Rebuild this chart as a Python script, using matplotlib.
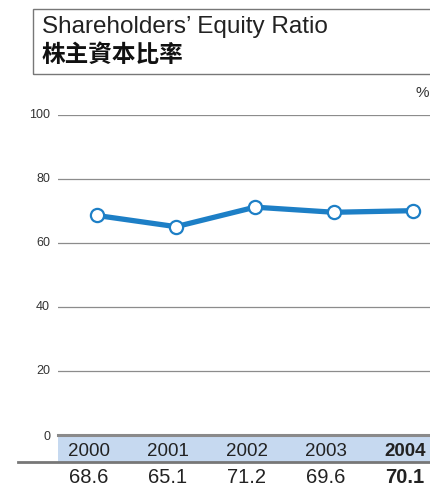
"""
Shareholders' Equity Ratio chart, 2000-2004.
"""

import matplotlib
matplotlib.use('Agg')
import matplotlib.pyplot as plt
from matplotlib.patches import Rectangle

years = ['2000', '2001', '2002', '2003', '2004']
ratio = [68.6, 65.1, 71.2, 69.6, 70.1]
value_labels = ['68.6', '65.1', '71.2', '69.6', '70.1']
y_ticks = [0, 20, 40, 60, 80, 100]

plt.rcParams['font.family'] = ['Liberation Sans', 'DejaVu Sans']

W, H = 431, 486
fig = plt.figure(figsize=(W / 100, H / 100), dpi=100)

# axes placed in pixel coordinates
ax_left, ax_right = 58, 431
ax_top, ax_bottom = 115, 435
ax = fig.add_axes([ax_left / W, 1 - ax_bottom / H,
                   (ax_right - ax_left) / W, (ax_bottom - ax_top) / H])

# x positions: first point at px 97, step 79 px
step = 79
x0 = (ax_left - 97) / step
x1 = (ax_right - 97) / step
ax.set_xlim(x0, x1)
ax.set_ylim(0, 100)
ax.axis('off')

# gridlines and tick labels
for t in y_ticks[1:]:
    ax.axhline(t, color='#8c8c8c', lw=0.9, zorder=1)
    ax.text(-0.021, t, str(t), transform=ax.get_yaxis_transform(),
            ha='right', va='center', fontsize=9, color='#333333')
ax.text(-0.021, -0.6, '0', transform=ax.get_yaxis_transform(),
        ha='right', va='center', fontsize=9, color='#333333')

# data line
xs = list(range(len(years)))
ax.plot(xs, ratio, color='#1d7fc6', lw=3.8, solid_capstyle='butt',
        marker='o', markersize=9.5, markerfacecolor='white',
        markeredgecolor='#1d7fc6', markeredgewidth=1.6, zorder=3,
        clip_on=False)

# percent sign
fig.text(429 / W, 1 - 93 / H, '%', fontsize=11, color='#333333',
         ha='right', va='center')

# title box
fig.patches.append(Rectangle((33 / W, 1 - 74 / H), (W + 5 - 33) / W, 65 / H,
                             transform=fig.transFigure, fill=False,
                             edgecolor='#777777', lw=1.0))
fig.text(42 / W, 1 - 33 / H, 'Shareholders\u2019 Equity Ratio', fontsize=17.5,
         color='#222222', ha='left', va='baseline')
fig.text(42 / W, 1 - 55 / H, '株主資本比率', fontsize=17, fontweight='bold',
         family=['Noto Sans CJK TC', 'DejaVu Sans'], color='#111111',
         ha='left', va='center')

# year band under the axis
band_top, band_bottom = 435, 462
fig.patches.append(Rectangle((ax_left / W, 1 - band_bottom / H),
                             (W - ax_left) / W, (band_bottom - band_top) / H,
                             transform=fig.transFigure, facecolor='#c6d9f0',
                             edgecolor='none', zorder=0))
fig.add_artist(plt.Line2D([ax_left / W, 1], [1 - band_top / H] * 2,
                          color='#8a8a8a', lw=2.2))
fig.add_artist(plt.Line2D([18 / W, 1], [1 - band_bottom / H] * 2,
                          color='#777777', lw=2.0))

for i, (yr, val) in enumerate(zip(years, value_labels)):
    px = 89 + step * i
    bold = 'bold' if i == len(years) - 1 else 'normal'
    fig.text(px / W, 1 - 451 / H, yr, fontsize=13.5, fontweight=bold,
             color='#222222', ha='center', va='center')
    fig.text(px / W, 1 - 477 / H, val, fontsize=14.5, fontweight=bold,
             color='#222222', ha='center', va='center')

fig.savefig('out.png', dpi=100)
